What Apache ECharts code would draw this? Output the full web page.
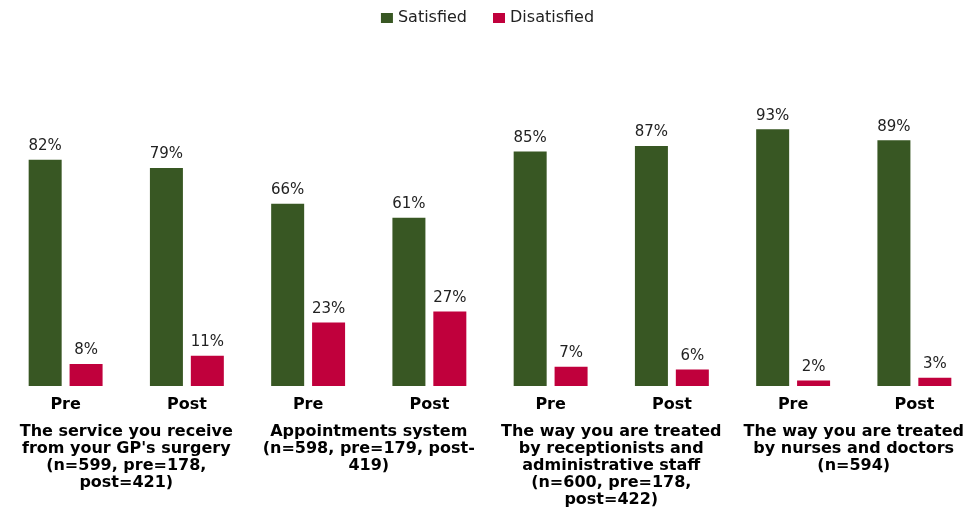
<!DOCTYPE html>
<html><head><meta charset="utf-8">
<script src="https://cdn.jsdelivr.net/npm/echarts@6/dist/echarts.min.js"></script>
<style>html,body{margin:0;padding:0;background:#fff}#c{width:975px;height:508px}</style>
</head><body><div id="c"></div>
<script>
const categories = ['Pre','Post','Pre','Post','Pre','Post','Pre','Post'];
const groups = [
  "The service you receive\nfrom your GP's surgery\n(n=599, pre=178,\npost=421)",
  "Appointments system\n(n=598, pre=179, post-\n419)",
  "The way you are treated\nby receptionists and\nadministrative staff\n(n=600, pre=178,\npost=422)",
  "The way you are treated\nby nurses and doctors\n(n=594)"
];
const satisfied = [82,79,66,61,85,87,93,89];
const disatisfied = [8,11,23,27,7,6,2,3];

const chart = echarts.init(document.getElementById('c'));
const lbl = {show:true, position:'top', distance:6, formatter:'{c}%', fontFamily:'DejaVu Sans', fontSize:15, color:'#222'};
chart.setOption({
  animation:false,
  legend:{top:5, left:'center', itemWidth:12, itemHeight:10, itemGap:26, icon:'rect',
    textStyle:{fontFamily:'DejaVu Sans', fontSize:16, color:'#222'}},
  grid:{left:5, right:-6, top:110, bottom:122, containLabel:false},
  xAxis:[
    {type:'category', data:categories, axisLine:{show:false}, axisTick:{show:false},
     axisLabel:{margin:11, fontFamily:'DejaVu Sans', fontSize:16, color:'#000', fontWeight:'bold'}},
    {type:'category', data:groups, position:'bottom', offset:30, axisLine:{show:false}, axisTick:{show:false},
     axisLabel:{margin:7, fontFamily:'DejaVu Sans', fontSize:16, lineHeight:17, color:'#000', fontWeight:'bold', interval:0, align:'center'}}
  ],
  yAxis:{type:'value', min:0, max:100, show:false},
  series:[
    {name:'Satisfied', type:'bar', data:satisfied, barWidth:33, barGap:'24%', itemStyle:{color:'#385723'}, label:lbl},
    {name:'Disatisfied', type:'bar', data:disatisfied, barWidth:33, itemStyle:{color:'#C0003C'}, label:lbl}
  ]
});
</script></body></html>
